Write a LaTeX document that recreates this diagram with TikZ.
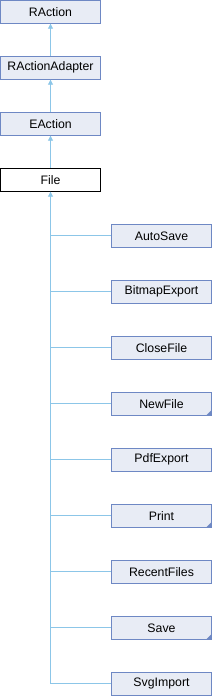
\documentclass[tikz,border=0pt]{standalone}
\usepackage{fontspec}
\setmainfont{Liberation Sans}
\usetikzlibrary{arrows.meta}
\definecolor{boxfill}{RGB}{232,236,245}
\definecolor{boxline}{RGB}{110,136,196}
\definecolor{edgecol}{RGB}{140,198,232}
\definecolor{markcol}{RGB}{110,136,196}
\begin{document}
\begin{tikzpicture}[x=1pt,y=-1pt,
  cls/.style={draw=boxline,fill=boxfill,line width=0.8pt,minimum width=100pt,minimum height=23pt,inner sep=0pt,font=\fontsize{12.3}{13}\selectfont},
  cur/.style={cls,draw=black,fill=white},
  inh/.style={draw=edgecol,line width=0.9pt,-{Triangle[length=5pt,width=5pt,fill=edgecol]}},
  link/.style={draw=edgecol,line width=0.9pt}]
\useasboundingbox (0,0) rectangle (212,696);
\node[cls] (ra) at (50.5,11.8) {RAction};
\node[cls] (raa) at (50.5,67.8) {RActionAdapter};
\node[cls] (ea) at (50.5,123.8) {EAction};
\node[cur] (file) at (50.5,179.8) {File};
\foreach \n/\t [count=\i from 0] in {as/AutoSave,be/BitmapExport,cf/CloseFile,nf/NewFile,pe/PdfExport,pr/Print,rf/RecentFiles,sv/Save,si/SvgImport}{
  \node[cls] (\n) at (161.5,{235.8+56*\i}) {\t};
}
\foreach \n in {nf,pr,sv}{
  \fill[markcol] (\n.south east) -- ++(-6,0) -- ++(6,-6) -- cycle;
}
\draw[inh] (raa.north) -- (ra.south);
\draw[inh] (ea.north) -- (raa.south);
\draw[inh] (file.north) -- (ea.south);
\coordinate (trunk) at (file.south);
\draw[inh] (si.west) -| (file.south);
\foreach \n in {as,be,cf,nf,pe,pr,rf,sv}{
  \draw[link] (\n.west) -- (\n.west -| trunk);
}
\end{tikzpicture}
\end{document}
